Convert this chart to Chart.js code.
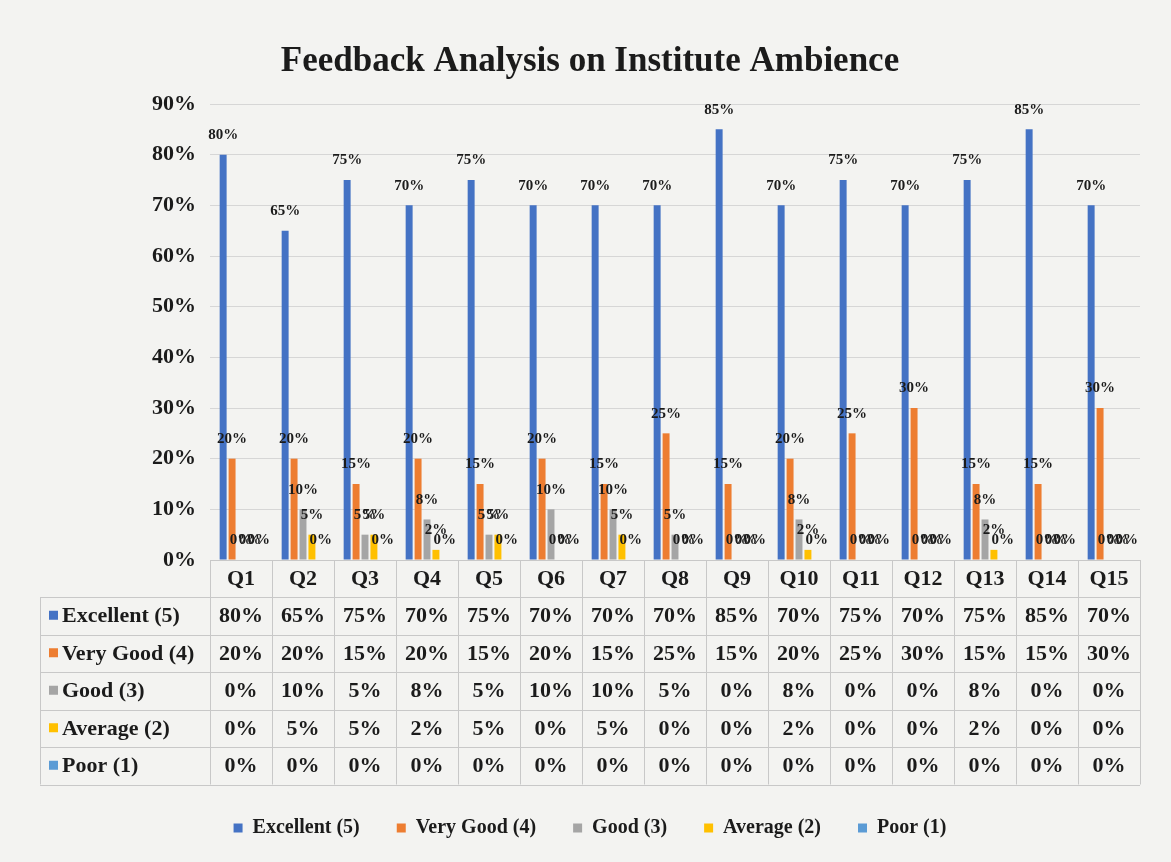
<!DOCTYPE html>
<html>
<head>
<meta charset="utf-8">
<title>Feedback Analysis on Institute Ambience</title>
<script src="https://cdn.jsdelivr.net/npm/chart.js@4.4.1/dist/chart.umd.min.js"></script>
<style>
  html, body { margin: 0; padding: 0; background: #f3f3f1; }
  #wrap { width: 1171px; height: 862px; }
  canvas { display: block; }
</style>
</head>
<body>
<div id="wrap"><canvas id="chart" width="1171" height="862"></canvas></div>
<script>
// Questions on the category axis
const questions = ['Q1','Q2','Q3','Q4','Q5','Q6','Q7','Q8','Q9','Q10','Q11','Q12','Q13','Q14','Q15'];

// Percentage of responses per rating
const excellent = [80, 65, 75, 70, 75, 70, 70, 70, 85, 70, 75, 70, 75, 85, 70];
const veryGood  = [20, 20, 15, 20, 15, 20, 15, 25, 15, 20, 25, 30, 15, 15, 30];
const good      = [ 0, 10,  5,  8,  5, 10, 10,  5,  0,  8,  0,  0,  8,  0,  0];
const average   = [ 0,  5,  5,  2,  5,  0,  5,  0,  0,  2,  0,  0,  2,  0,  0];
const poor      = [ 0,  0,  0,  0,  0,  0,  0,  0,  0,  0,  0,  0,  0,  0,  0];

const seriesNames = ['Excellent (5)', 'Very Good (4)', 'Good (3)', 'Average (2)', 'Poor (1)'];
const seriesColors = ['#4472C4', '#ED7D31', '#A5A5A5', '#FFC000', '#5B9BD5'];

// Value axis ticks (percent)
const yTicks = [0, 10, 20, 30, 40, 50, 60, 70, 80, 90];

const SERIF = '"Liberation Serif", "Times New Roman", serif';
const INK = '#1b1b1b';

// Value labels above every bar
const barLabels = {
  id: 'barLabels',
  afterDatasetsDraw(chart) {
    const ctx = chart.ctx;
    ctx.save();
    ctx.font = 'bold 15px ' + SERIF;
    ctx.fillStyle = INK;
    ctx.textAlign = 'center';
    ctx.textBaseline = 'bottom';
    chart.data.datasets.forEach((ds, di) => {
      const meta = chart.getDatasetMeta(di);
      meta.data.forEach((bar, i) => {
        ctx.fillText(ds.data[i] + '%', bar.x, bar.y - 12);
      });
    });
    ctx.restore();
  }
};

// Data table under the plot, aligned with the category axis
const dataTable = {
  id: 'dataTable',
  afterDraw(chart) {
    const ctx = chart.ctx;
    const xs = chart.scales.x;
    const area = chart.chartArea;
    const n = questions.length;
    const colW = (xs.right - xs.left) / n;
    const top = area.bottom;
    const headH = 37;
    const rowH = 37.5;
    const labelLeft = 40;
    const rows = chart.data.datasets;
    const bottom = top + headH + rowH * rows.length;

    ctx.save();
    ctx.strokeStyle = '#c8c8c8';
    ctx.lineWidth = 1;
    ctx.beginPath();
    // axis line / header top
    ctx.moveTo(xs.left, top + 0.5);
    ctx.lineTo(xs.right, top + 0.5);
    // column separators
    for (let i = 0; i <= n; i++) {
      const x = Math.round(xs.left + i * colW) + 0.5;
      ctx.moveTo(x, top);
      ctx.lineTo(x, bottom);
    }
    // row separators
    for (let r = 0; r <= rows.length; r++) {
      const y = Math.round(top + headH + r * rowH) + 0.5;
      ctx.moveTo(labelLeft, y);
      ctx.lineTo(xs.right, y);
    }
    ctx.moveTo(labelLeft + 0.5, top + headH);
    ctx.lineTo(labelLeft + 0.5, bottom);
    ctx.stroke();

    ctx.fillStyle = INK;
    ctx.font = 'bold 22px ' + SERIF;
    ctx.textBaseline = 'middle';
    ctx.textAlign = 'center';
    questions.forEach((q, i) => {
      ctx.fillText(q, xs.getPixelForValue(i), top + headH / 2 + 1);
    });

    rows.forEach((ds, r) => {
      const cy = top + headH + r * rowH + rowH / 2 + 1;
      ctx.fillStyle = ds.backgroundColor;
      ctx.fillRect(labelLeft + 9, cy - 6, 9, 9);
      ctx.fillStyle = INK;
      ctx.textAlign = 'left';
      ctx.fillText(ds.label, labelLeft + 22, cy);
      ctx.textAlign = 'center';
      ds.data.forEach((v, i) => {
        ctx.fillText(v + '%', xs.getPixelForValue(i), cy);
      });
    });
    ctx.restore();
  }
};

const chart = new Chart(document.getElementById('chart'), {
  type: 'bar',
  data: {
    labels: questions,
    datasets: [
      { label: seriesNames[0], data: excellent, backgroundColor: seriesColors[0] },
      { label: seriesNames[1], data: veryGood,  backgroundColor: seriesColors[1] },
      { label: seriesNames[2], data: good,      backgroundColor: seriesColors[2] },
      { label: seriesNames[3], data: average,   backgroundColor: seriesColors[3] },
      { label: seriesNames[4], data: poor,      backgroundColor: seriesColors[4] }
    ]
  },
  options: {
    responsive: false,
    animation: false,
    devicePixelRatio: 1,
    categoryPercentage: 0.72,
    barPercentage: 0.78,
    layout: { padding: { left: 40, right: 31, top: 18, bottom: 14 } },
    plugins: {
      title: {
        display: true,
        text: 'Feedback Analysis on Institute Ambience',
        color: INK,
        font: { family: SERIF, size: 35, weight: 'bold' },
        padding: { top: 23, bottom: 21 }
      },
      legend: {
        position: 'bottom',
        labels: {
          color: INK,
          font: { family: SERIF, size: 20, weight: 'bold' },
          boxWidth: 9,
          boxHeight: 9,
          padding: 37
        }
      },
      tooltip: { enabled: false }
    },
    scales: {
      x: {
        grid: { display: false },
        border: { display: false },
        ticks: { display: false },
        afterFit(scale) { scale.height = 221; }
      },
      y: {
        min: yTicks[0],
        max: yTicks[yTicks.length - 1],
        afterBuildTicks(scale) { scale.ticks = yTicks.map(v => ({ value: v })); },
        afterFit(scale) { scale.width = 170; },
        grid: { color: '#d6d6d6', drawTicks: false },
        border: { display: false },
        ticks: {
          color: INK,
          padding: 14,
          font: { family: SERIF, size: 22, weight: 'bold' },
          callback: v => v + '%'
        }
      }
    }
  },
  plugins: [barLabels, dataTable]
});
</script>
</body>
</html>
